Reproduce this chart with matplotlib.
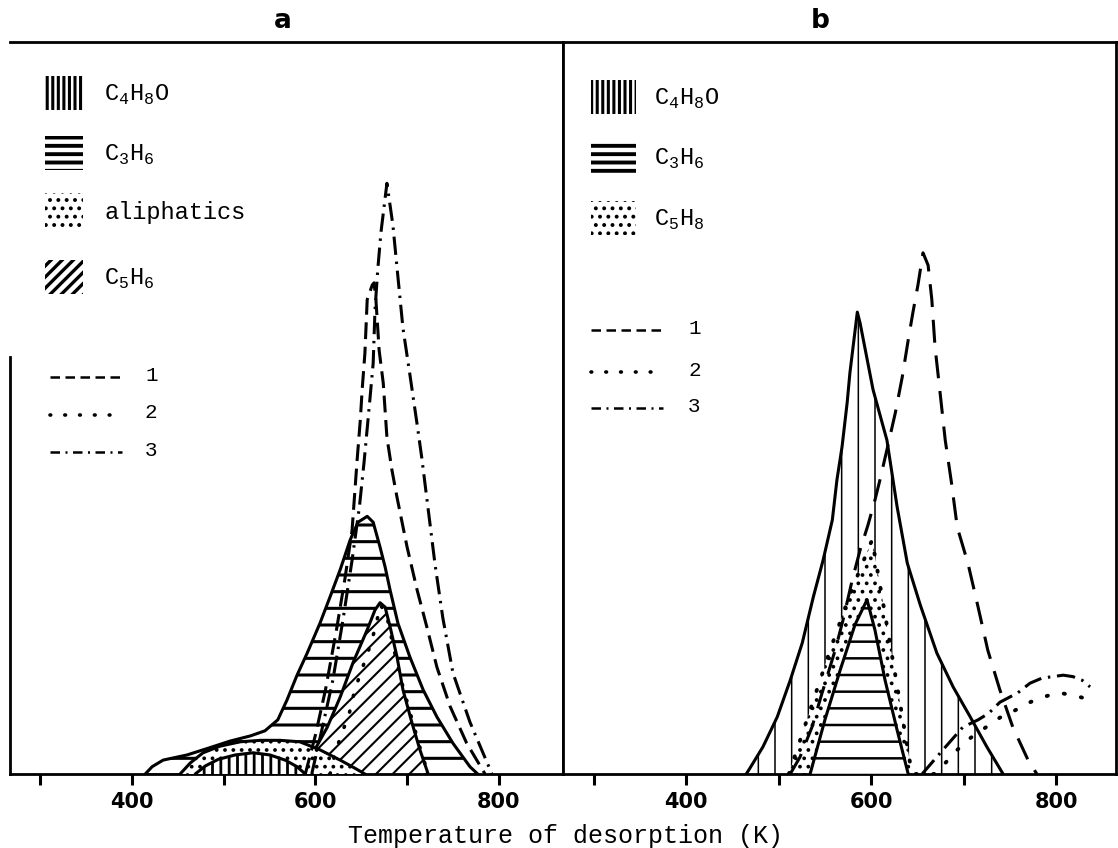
import matplotlib
matplotlib.use("Agg")
import matplotlib.pyplot as plt
from matplotlib.patches import Rectangle
from matplotlib.lines import Line2D

# ---------------- data (temperature K, relative intensity 0-100) ----------------
# panel a
T_A_C3H6 = [414.5, 422, 434, 460, 485, 507, 529, 545, 559, 569, 580, 591, 605, 616, 627, 638,
            646.5, 656.5, 663, 670.5, 676, 681.5, 690, 703, 717.5, 732.5, 750, 768.5, 777]
V_A_C3H6 = [0, 1.0, 1.9, 2.6, 3.6, 4.5, 5.2, 5.9, 7.4, 10.1, 13.5, 16.5, 20.6, 24.2, 27.9, 32.0,
            34.4, 35.2, 34.4, 31.0, 28.3, 25.1, 20.6, 16.0, 11.5, 7.8, 4.2, 1.0, 0]
T_A_ALI = [452.5, 463.5, 477.5, 496, 518, 540, 561.5, 583, 605, 627, 643, 654]
V_A_ALI = [0, 1.5, 2.9, 3.8, 4.4, 4.6, 4.6, 4.4, 3.3, 1.9, 0.8, 0]
T_A_C4H8O = [469, 480, 494, 512.5, 532, 550.5, 567, 580, 589]
V_A_C4H8O = [0, 1.1, 2.0, 2.6, 2.9, 2.6, 1.9, 1.0, 0]
T_A_C5H6 = [589, 597.5, 613, 627, 641, 656.5, 665, 670.5, 676, 681.5, 689, 695.5, 705.5, 714, 723]
V_A_C5H6 = [0, 2.9, 6.4, 10.5, 15.2, 19.7, 22.4, 23.4, 22.8, 20.1, 16.0, 11.5, 6.9, 3.3, 0]
T_A_1 = [589, 600, 611, 623, 632, 640, 645.5, 649, 651, 654, 656.5, 662, 664, 666, 669.5, 674,
         678, 683.5, 689, 700, 711, 721.5, 732.5, 747, 765, 785]
V_A_1 = [0, 5.3, 11.5, 19.7, 26.5, 33.3, 42.9, 48.4, 52.5, 57.5, 64.8, 66.8, 67.1, 64.8, 57.9, 53.4,
         46.0, 41.5, 37.8, 31.0, 25.1, 20.1, 14.6, 9.2, 4.2, 0]
T_A_2 = [616, 621.5, 629, 637, 643, 650.5, 658, 666, 670.5, 677, 683.5, 692, 703, 714, 723]
V_A_2 = [0, 2.9, 5.6, 8.3, 11.5, 14.2, 16.9, 20.2, 23.1, 22.1, 18.3, 13.5, 8.5, 3.6, 0]
T_A_3 = [596, 607, 619, 630, 640, 648, 653, 658.5, 663, 665, 668, 671.5, 678, 684.5, 690, 695.5,
         703, 711, 716, 730.5, 739, 750, 768.5, 792.5]
V_A_3 = [0, 6.0, 12.8, 21.0, 29.2, 36.5, 42.5, 49.9, 56.1, 63.4, 68.9, 74.0, 80.7, 75.0, 67.9, 60.9,
         54.6, 47.7, 43.2, 28.6, 21.3, 13.8, 7.1, 0]

# panel b
T_B_C4H8O = [465, 469, 483, 498.5, 512.5, 525.5, 537.5, 548, 558, 563, 568.5, 574, 577, 585, 588,
             602, 617, 628, 639, 653, 671, 688.5, 707, 725, 742.5]
V_B_C4H8O = [0, 0.8, 3.7, 7.8, 12.8, 17.9, 24.2, 29.2, 34.7, 40.2, 44.7, 50.7, 54.8, 63.1, 61.6,
             52.5, 45.6, 36.5, 28.8, 23.1, 16.5, 11.9, 7.8, 3.7, 0]
T_B_C3H6 = [534, 550, 566.5, 582.5, 595.5, 604, 615, 628, 640]
V_B_C3H6 = [0, 7.4, 14.2, 20.4, 23.8, 19.7, 12.8, 6.0, 0]
T_B_C5H8 = [511, 534, 555.5, 577, 590, 601, 614, 627, 644]
V_B_C5H8 = [0, 8.7, 16.9, 24.5, 28.6, 32.0, 22.5, 12.8, 0]
T_B_1 = [512.5, 523, 536, 547, 561, 569.5, 579.5, 588, 596.5, 604, 609.5, 617, 626, 633.5, 640,
         645, 650.5, 656, 661.5, 665.5, 669, 674.5, 680, 686.5, 693, 704.5, 715.5, 726, 739, 753,
         769.5, 779]
V_B_1 = [0, 2.3, 6.4, 11.1, 16.9, 21.0, 26.5, 30.6, 34.0, 37.4, 40.2, 44.3, 49.3, 54.2, 59.3,
         63.0, 66.8, 71.2, 69.5, 64.8, 58.3, 52.0, 45.6, 40.0, 33.7, 28.8, 22.8, 16.9, 11.5, 6.4,
         1.9, 0]
T_B_2 = [511, 534, 555.5, 577, 590, 601, 614, 627, 644, 669, 683, 693, 707, 723, 739, 755.5,
         769.5, 785.5, 802, 817, 829]
V_B_2 = [0, 8.7, 16.9, 24.5, 28.6, 32.0, 22.5, 12.8, 0, 0, 1.9, 3.3, 4.9, 6.3, 7.7, 8.7,
         9.7, 10.5, 11.1, 10.8, 10.4]
T_B_3 = [655, 677.5, 699, 715.5, 727, 739, 758.5, 771.5, 784.5, 807.5, 818, 828, 836.5]
V_B_3 = [0, 3.3, 6.4, 7.4, 8.3, 9.8, 11.1, 12.4, 13.1, 13.5, 13.3, 12.8, 11.9]

TICKS = [300, 400, 500, 600, 700, 800]
TICK_LABELS = ['', '400', '', '600', '', '800']
LEG_A = [r'C$_\mathregular{4}$H$_\mathregular{8}$O', r'C$_\mathregular{3}$H$_\mathregular{6}$',
         'aliphatics', r'C$_\mathregular{5}$H$_\mathregular{6}$']
LEG_B = [r'C$_\mathregular{4}$H$_\mathregular{8}$O', r'C$_\mathregular{3}$H$_\mathregular{6}$',
         r'C$_\mathregular{5}$H$_\mathregular{8}$']
LINE_LABELS = ['1', '2', '3']

# ---------------- figure ----------------
W, H = 1118, 848
fig = plt.figure(figsize=(W / 100, H / 100), dpi=100)


def fx(x):
    return x / W


def fy(y):
    return 1 - y / H


ax_a = fig.add_axes([fx(10), fy(774), 553 / W, 732 / H])
ax_b = fig.add_axes([fx(563), fy(774), 553 / W, 732 / H])
ax_a.set_xlim(267, 870)
ax_b.set_xlim(267, 864.5)

DASH_A = (0, (5.5, 2.5))
DASH_B = (0, (7.5, 4.2))
DOT = (0, (0.3, 4.2))
DASHDOT = (0, (6, 2.2, 0.8, 2.2))

for ax in (ax_a, ax_b):
    ax.set_ylim(0, 100)
    ax.set_yticks([])
    ax.set_xticks(TICKS, TICK_LABELS)
    ax.tick_params(axis='x', direction='out', length=8, width=2.2, pad=5)
    for lab in ax.get_xticklabels():
        lab.set_fontfamily('DejaVu Sans')
        lab.set_fontweight('bold')
        lab.set_fontsize(15)
    for s in ax.spines.values():
        s.set_linewidth(2.0)
ax_a.spines['left'].set_bounds(0, 57)


def region(ax, T, V, hatch, hlw, z, edge=True, elw=2.2):
    with plt.rc_context({'hatch.linewidth': hlw}):
        coll = ax.fill_between(T, V, 0, facecolor='white', edgecolor='black',
                               linewidth=0, hatch=hatch, zorder=z)
    if hasattr(coll, 'set_hatch_linewidth'):
        coll.set_hatch_linewidth(hlw)
    if edge:
        ax.plot(T, V, color='black', lw=elw, zorder=z + 0.1,
                solid_joinstyle='round', solid_capstyle='round')


def curve(ax, T, V, ls, lw=2.2):
    cap = 'round' if ls is DOT else 'butt'
    ax.plot(T, V, color='black', lw=lw, ls=ls, zorder=6, dash_capstyle=cap)


# panel a regions
region(ax_a, T_A_C3H6, V_A_C3H6, '-', 2.2, 1)
region(ax_a, T_A_C5H6, V_A_C5H6, '//', 1.5, 2)
region(ax_a, T_A_ALI, V_A_ALI, '..', 1.5, 3)
region(ax_a, T_A_C4H8O, V_A_C4H8O, '||', 2.0, 4)
curve(ax_a, T_A_1, V_A_1, DASH_A)
curve(ax_a, T_A_2, V_A_2, DOT, lw=2.6)
curve(ax_a, T_A_3, V_A_3, DASHDOT)

# panel b regions
region(ax_b, T_B_C4H8O, V_B_C4H8O, '|', 1.1, 1)
region(ax_b, T_B_C5H8, V_B_C5H8, '..', 1.5, 2, edge=False)
region(ax_b, T_B_C3H6, V_B_C3H6, '-', 1.8, 3)
curve(ax_b, T_B_1, V_B_1, DASH_B)
curve(ax_b, T_B_2, V_B_2, DOT, lw=2.8)
curve(ax_b, T_B_3, V_B_3, DASHDOT)

# titles and axis label
fig.text(fx(283), fy(21), 'a', fontsize=19, fontweight='bold', family='DejaVu Sans',
         ha='center', va='center')
fig.text(fx(820), fy(21), 'b', fontsize=19, fontweight='bold', family='DejaVu Sans',
         ha='center', va='center')
fig.text(fx(566), fy(836), 'Temperature of desorption (K)', fontsize=18,
         family='Liberation Mono', ha='center', va='center')


def swatch(x0, y0, x1, y1, hatch, hlw):
    with plt.rc_context({'hatch.linewidth': hlw}):
        r = Rectangle((fx(x0), fy(y1)), fx(x1) - fx(x0), fy(y0) - fy(y1),
                      transform=fig.transFigure, facecolor='white', edgecolor='black',
                      linewidth=0, hatch=hatch)
    if hasattr(r, 'set_hatch_linewidth'):
        r.set_hatch_linewidth(hlw)
    fig.add_artist(r)


def leg_line(x0, x1, y, ls, lw=1.8):
    cap = 'round' if ls[1][0] < 0.5 else 'butt'
    fig.add_artist(Line2D([fx(x0), fx(x1)], [fy(y), fy(y)], transform=fig.transFigure,
                          color='black', lw=lw, ls=ls, dash_capstyle=cap))


LEG_STYLES = [((0, (3.8, 2.2)), 1.8), ((0, (0.2, 3.9)), 2.6), ((0, (3.8, 2.2, 0.8, 2.2)), 1.8)]

# legend panel a
rows_a = [93, 153, 210, 277]
hatches_a = [('|||', 2.2), ('--', 2.8), ('..', 1.6), ('///', 2.4)]
for y, (h, lw), lab in zip(rows_a, hatches_a, LEG_A):
    swatch(45, y - 17, 83, y + 17, h, lw)
    fig.text(fx(104), fy(y + 2), lab, fontsize=17, family='Liberation Mono', va='center')
for y, (ls, lw), lab in zip([377, 415, 452], LEG_STYLES, LINE_LABELS):
    leg_line(50, 122, y, ls, lw)
    fig.text(fx(145), fy(y - 2), lab, fontsize=15, family='Liberation Mono', va='center')

# legend panel b
rows_b = [97, 157, 218]
hatches_b = [('|||', 2.2), ('--', 2.8), ('..', 1.6)]
for y, (h, lw), lab in zip(rows_b, hatches_b, LEG_B):
    swatch(591, y - 17, 636, y + 17, h, lw)
    fig.text(fx(654), fy(y + 2), lab, fontsize=17, family='Liberation Mono', va='center')
for y, (ls, lw), lab in zip([330, 372, 408], LEG_STYLES, LINE_LABELS):
    leg_line(591, 663, y, ls, lw)
    fig.text(fx(688), fy(y - 2), lab, fontsize=15, family='Liberation Mono', va='center')

fig.savefig('out.png', dpi=100)
